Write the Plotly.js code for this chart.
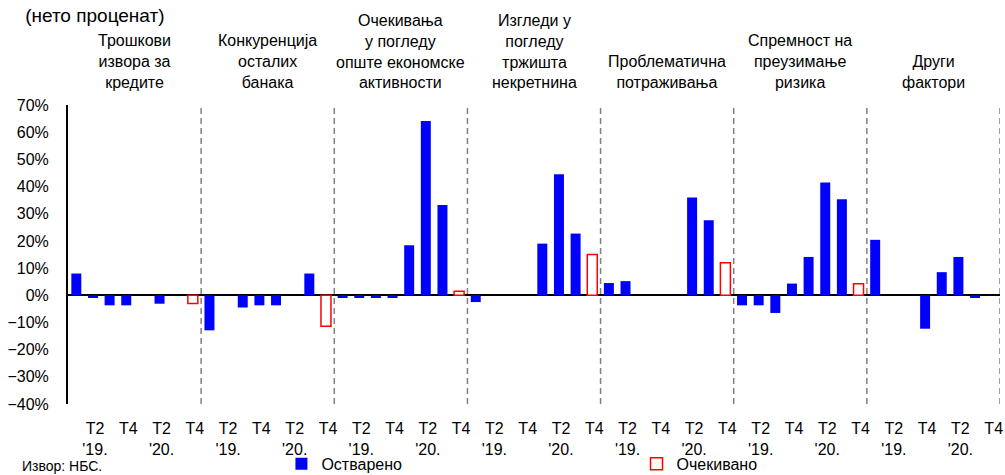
<!DOCTYPE html>
<html>
<head>
<meta charset="utf-8">
<script src="https://cdn.plot.ly/plotly-3.0.1.min.js"></script>
<style>html,body{margin:0;padding:0;background:#fff;}#chart{width:1005px;height:475px;}</style>
</head>
<body>
<div id="chart"></div>
<script>
// Factor groups (each has 8 quarters: Q1 2019 – Q4 2020)
const groups = [
  'Трошкови<br>извора за<br>кредите',
  'Конкуренција<br>осталих<br>банака',
  'Очекивања<br>у погледу<br>опште економске<br>активности',
  'Изгледи у<br>погледу<br>тржишта<br>некретнина',
  'Проблематична<br>потраживања',
  'Спремност на<br>преузимање<br>ризика',
  'Други<br>фактори'
];
const quarterLabels = ['', 'T2', '', 'T4', '', 'T2', '', 'T4'];
const yearLabels    = ['', "'19.", '', '', '', "'20.", '', ''];

// Realized (Остварено), net percent, per group
const realizedCosts       = [8, -1, -3.7, -3.7, 0, -3.1, 0, null];
const realizedCompetition = [-12.9, 0, -4.5, -3.7, -3.7, 0, 8, null];
const realizedEconomy     = [-1, -1, -1, -1, 18.4, 64.1, 33.2, null];
const realizedRealEstate  = [-2.5, 0, 0, 0, 19, 44.5, 22.7, null];
const realizedNPL         = [4.5, 5.2, 0, 0, 0, 36, 27.6, null];
const realizedRisk        = [-3.7, -3.7, -6.5, 4.3, 14.1, 41.5, 35.3, null];
const realizedOther       = [20.4, 0, 0, -12.3, 8.5, 14.1, -1, null];

// Expected (Очекивано) for the last quarter of each group
const expectedLast = [-3, -11.4, 1.5, 15, 12, 4.2, null];

const realizedAll = [realizedCosts, realizedCompetition, realizedEconomy,
  realizedRealEstate, realizedNPL, realizedRisk, realizedOther];

const FONT = 'Liberation Sans, Arial, sans-serif';
const nq = quarterLabels.length;
const xs = [], yReal = [], yExp = [], tickvals = [], ticktext = [];
groups.forEach((g, gi) => {
  for (let q = 0; q < nq; q++) {
    const x = gi * nq + q;
    xs.push(x);
    yReal.push(realizedAll[gi][q]);
    yExp.push(q === nq - 1 ? expectedLast[gi] : null);
    if (quarterLabels[q]) {
      tickvals.push(x);
      ticktext.push(quarterLabels[q] + (yearLabels[q] ? '<br>' + yearLabels[q] : '<br> '));
    }
  }
});

const traces = [
  {type: 'bar', name: 'Остварено', x: xs, y: yReal, width: 0.6, legend: 'legend',
   marker: {color: '#0000FF', line: {width: 0}}, hoverinfo: 'y'},
  {type: 'bar', name: 'Очекивано', x: xs, y: yExp, width: 0.6, legend: 'legend2',
   marker: {color: 'rgba(255,255,255,1)', line: {color: '#FF0000', width: 1.5}}, hoverinfo: 'y'}
];

const shapes = [];
for (let gi = 1; gi <= groups.length; gi++) {
  shapes.push({type: 'line', xref: 'x', yref: 'paper', x0: gi * nq - 0.5, x1: gi * nq - 0.5,
    y0: 0, y1: 1, line: {color: '#808080', width: 1.5, dash: '6px,4px'}});
}

const annotations = groups.map((g, gi) => ({
  text: g, xref: 'x', yref: 'paper', x: gi * nq + (nq - 1) / 2, y: 1,
  xanchor: 'center', yanchor: 'bottom', yshift: 12, showarrow: false,
  font: {family: FONT, size: 16, color: '#000'}
}));
annotations.push({
  text: 'Извор: НБС.', xref: 'paper', yref: 'paper', x: -0.052, y: -0.207,
  xanchor: 'left', yanchor: 'middle', showarrow: false,
  font: {family: FONT, size: 14, color: '#000'}
});

const legendBase = {orientation: 'h', yanchor: 'middle', y: -0.2, xanchor: 'left',
  itemwidth: 30, bgcolor: 'rgba(0,0,0,0)', font: {family: FONT, size: 16, color: '#000'}};

const layout = {
  width: 1005, height: 475,
  margin: {l: 68, r: 5, t: 105, b: 71, autoexpand: false},
  paper_bgcolor: '#fff', plot_bgcolor: '#fff',
  font: {family: FONT, size: 16, color: '#000'},
  title: {text: '(нето проценат)', xref: 'container', x: 0.025, xanchor: 'left',
          yref: 'container', y: 0.968, yanchor: 'middle',
          font: {family: FONT, size: 19, color: '#000'}},
  barmode: 'overlay',
  showlegend: true,
  legend: Object.assign({}, legendBase, {x: 0.229}),
  legend2: Object.assign({}, legendBase, {x: 0.61}),
  xaxis: {range: [-0.5, xs.length - 0.5], tickmode: 'array', tickvals: tickvals, ticktext: ticktext,
          showgrid: false, zeroline: false, showline: false, ticks: '', ticklabelshift: 2,
          ticklabelstandoff: 13, automargin: false, tickfont: {size: 16}, fixedrange: true},
  yaxis: {range: [-40, 70], dtick: 10, tick0: 0, ticksuffix: '%', showgrid: false,
          zeroline: true, zerolinecolor: '#000', zerolinewidth: 2, automargin: false,
          showline: true, linecolor: '#000', linewidth: 2, ticks: '', ticklabelstandoff: 14,
          tickfont: {size: 16}, fixedrange: true},
  shapes: shapes,
  annotations: annotations
};

Plotly.newPlot('chart', traces, layout, {displayModeBar: false, staticPlot: true});
</script>
</body>
</html>
